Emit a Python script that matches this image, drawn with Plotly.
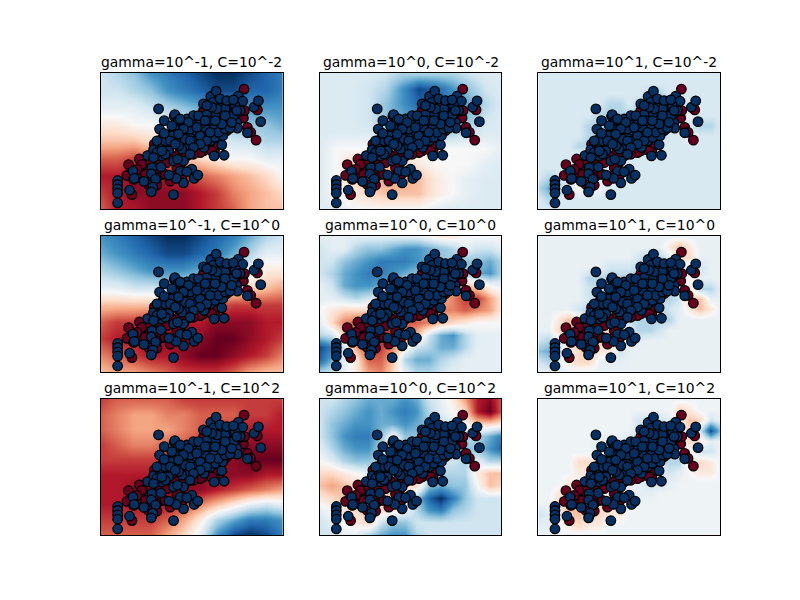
"""RBF SVM decision functions over a gamma / C grid."""

import plotly.graph_objects as go
from plotly.subplots import make_subplots

GAMMAS = ["-1", "0", "1"]
CS = ["-2", "0", "2"]

# point positions, arbitrary units (no ticks on the chart)
X_MAX = 546
Y_MAX = 405

class0_x = [430, 470, 440, 450, 466, 83, 115, 78, 93, 160, 353, 428, 431, 128, 118, 143, 168, 183, 208, 233,
            243, 163, 208, 308, 341, 288, 258, 233, 123, 208, 98, 153, 118, 308, 388, 363, 168, 238,
            268, 298, 323, 348, 178, 198, 228, 108, 133, 168, 193, 223, 148, 178, 213, 398, 413, 378,
            243, 278, 333, 108]
class0_y = [357, 295, 243, 228, 205, 132, 149, 100, 43, 193, 328, 271, 293, 123, 108, 73, 71, 103, 148, 138,
            98, 158, 163, 173, 173, 178, 158, 163, 133, 83, 88, 58, 93, 293, 313, 233, 118, 123,
            168, 168, 183, 193, 133, 138, 123, 103, 103, 93, 103, 98, 143, 163, 158, 273, 288, 233,
            153, 163, 173, 118]

class1_x = [50, 50, 50, 50, 50, 86, 96, 100, 129, 140, 158, 153, 180, 151, 164, 156, 151, 183, 178, 203,
            186, 176, 196, 182, 203, 218, 230, 218, 238, 248, 226, 204, 220, 190, 173, 222, 232, 251, 269, 248,
            220, 248, 230, 273, 258, 280, 291, 259, 283, 306, 308, 310, 340, 370, 330, 363, 343, 366, 273, 288,
            306, 286, 308, 328, 353, 378, 408, 410, 386, 386, 363, 343, 318, 308, 330, 346, 338, 363, 386, 413,
            426, 403, 460, 473, 480, 440, 318,
            193, 213, 238, 253, 268, 298, 318, 313, 298, 268, 258, 278, 293, 323, 338, 353, 373, 388, 398, 418,
            373, 348, 333, 358, 378, 398, 408, 328, 298, 278, 243, 233, 203, 193, 168, 158, 208, 223, 268, 183,
            168, 190, 213, 238, 263, 318, 373, 393, 363, 343, 313, 288, 248, 233]
class1_y = [85, 73, 60, 47, 18, 56, 113, 91, 82, 159, 177, 123, 125, 105, 89, 65, 51, 158, 187, 220,
            213, 238, 198, 193, 176, 143, 213, 43, 113, 78, 91, 101, 276, 263, 298, 281, 263, 253, 225, 235,
            241, 143, 148, 119, 111, 91, 101, 185, 203, 226, 206, 183, 158, 160, 203, 191, 213, 218, 253, 263,
            268, 233, 233, 258, 253, 253, 258, 241, 268, 288, 278, 281, 281, 313, 335, 351, 318, 308, 308, 336,
            321, 308, 303, 322, 260, 227, 223,
            203, 218, 198, 208, 203, 218, 203, 243, 253, 238, 268, 278, 278, 263, 238, 228, 238, 241, 278, 293,
            298, 298, 303, 328, 323, 325, 293, 228, 193, 183, 178, 188, 173, 163, 168, 153, 203, 193, 163, 173,
            203, 225, 248, 268, 258, 308, 278, 258, 253, 263, 263, 243, 238, 223]

# decision values per panel on the -10 (dark red) .. 10 (dark blue) scale, rows top to bottom
z_g1_c2 = [
    [2, 3, 4, 6, 7, 8, 9, 10, 10, 9, 8, 7],
    [2, 2, 3, 4, 6, 7, 8, 9, 9, 8, 8, 7],
    [1, 1, 1, 2, 3, 4, 5, 6, 6, 6, 6, 6],
    [-1, -1, 0, 0, 1, 2, 3, 3, 4, 4, 4, 5],
    [-3, -3, -3, -2, -2, -1, 0, 1, 2, 2, 3, 3],
    [-6, -6, -7, -6, -5, -3, -2, -1, 0, 0, 1, 1],
    [-8, -8, -9, -9, -8, -7, -6, -5, -4, -3, -2, 0],
    [-7, -8, -9, -9, -9, -9, -8, -7, -5, -4, -3, -2],
    [-6, -8, -8, -9, -9, -9, -8, -7, -6, -4, -3, -3],
]
z_g2_c2 = [
    [1.4, 1.4, 1.4, 1.4, 2, 3, 3, 3, 3, 2, 1.4, 1.4],
    [1.4, 1.4, 1.4, 2, 3, 6, 9, 8, 6, 4, 2, 1.4],
    [1.4, 1.4, 1.4, 2, 4, 6, 8, 8, 7, 5, 3, 1.4],
    [1.4, 1.4, 1.4, 2, 4, 5, 6, 6, 5, 4, 2, 1.4],
    [1.4, 1.4, 1.4, 1.4, 2, 3, 3, 3, 3, 2, 1.4, 1.4],
    [1.4, 0, 0, 0, 0, 0, 0, 0, 0, 0, 0, 1],
    [1.4, 0, -2, -3, -3, -2, -1, 0, 0, 0, 1, 1.4],
    [1.4, 0, -2, -3, -4, -4, -3, -1, 0, 1, 1.4, 1.4],
    [1.4, 0, -1, -2, -3, -3, -3, -1, 0, 1, 1.4, 1.4],
    [1.4, 1.4, 0, 0, 0, 0, 0, 1, 1.4, 1.4, 1.4, 1.4],
]
z_g3_c2 = [
    [1.6, 1.6, 1.6, 1.6, 1.6, 1.6, 1.6, 1.6, 1.6, 1.6, 1.6, 1.6, 1.6, 1.6, 1.6, 1.6, 1.6, 1.6, 1.6],
    [1.6, 1.6, 1.6, 1.6, 1.6, 1.6, 1.6, 1.6, 1.6, 1.6, 1.6, 1.6, 1.6, 1.6, 1.6, 1.6, 1.6, 1.6, 1.6],
    [1.6, 1.6, 1.6, 1.6, 1.6, 1.6, 1.6, 1.6, 1.6, 1.6, 1.6, 3, 3, 1.6, 1.6, 1.6, 1.6, 1.6, 1.6],
    [1.6, 1.6, 1.6, 1.6, 1.6, 1.6, 1.6, 3, 3, 1.6, 3, 3, 3, 3, 1.6, 1.6, 1.6, 1.6, 1.6],
    [1.6, 1.6, 1.6, 1.6, 1.6, 1.6, 3, 3, 3, 3, 3, 3, 3, 3, 1.6, .5, 1.6, 1.6, 1.6],
    [1.6, 1.6, 1.6, 1.6, 1.6, 3, 3, 3, 3, 3, 3, 3, 3, 1.6, 1.6, 1.6, 3, 3, 1.6],
    [1.6, 1.6, 1.6, 1.6, 1.6, 3, 3, 3, 3, 3, 3, 3, 3, 1.6, 1.6, .5, 1.6, 1.6, 1.6],
    [1.6, 1.6, 1.6, 1.6, 3, 3, 3, 3, 3, 3, 1.6, 1.6, 1.6, 1.6, 1.6, 1.6, 1.6, 1.6, 1.6],
    [1.6, 1.6, 1.6, 1.6, .5, .5, 1.6, 1.6, 1.6, 1.6, 1.6, 1.6, 1.6, 1.6, 1.6, 1.6, 1.6, 1.6, 1.6],
    [1.6, 1.6, 1.6, .5, .5, .5, 1.6, 1.6, .5, 1.6, 1.6, 1.6, 1.6, 1.6, 1.6, 1.6, 1.6, 1.6, 1.6],
    [1.6, 3, 1.6, 1.6, .5, .5, 1.6, .5, .5, 1.6, 1.6, 1.6, 1.6, 1.6, 1.6, 1.6, 1.6, 1.6, 1.6],
    [3, 5, 3, 1.6, 0, 0, .5, 1.6, 1.6, 1.6, 1.6, 1.6, 1.6, 1.6, 1.6, 1.6, 1.6, 1.6, 1.6],
    [1.6, 3, 1.6, 1.6, 1.6, 1.6, 1.6, 1.6, 1.6, 1.6, 1.6, 1.6, 1.6, 1.6, 1.6, 1.6, 1.6, 1.6, 1.6],
    [1.6, 1.6, 1.6, 1.6, 1.6, 1.6, 1.6, 1.6, 1.6, 1.6, 1.6, 1.6, 1.6, 1.6, 1.6, 1.6, 1.6, 1.6, 1.6],
]
z_g1_c0 = [
    [6, 7, 8, 9, 10, 10, 9, 8, 7, 5, 3, 2],
    [5, 6, 7, 8, 9, 9, 8, 7, 5, 3, 1, 1],
    [3, 4, 5, 6, 6, 6, 5, 4, 2, 1, -1, -1],
    [1, 1, 2, 2, 3, 2, 1, 0, -1, -2, -3, -4],
    [-3, -3, -3, -3, -3, -4, -5, -6, -7, -7, -7, -7],
    [-6, -7, -7, -8, -8, -8, -8, -9, -9, -9, -8, -8],
    [-7, -8, -8, -9, -9, -9, -9, -10, -10, -9, -8, -7],
    [-5, -6, -7, -8, -8, -9, -10, -10, -9, -8, -7, -5],
    [-3, -4, -4, -5, -6, -7, -7, -7, -6, -4, -3, -3],
]
z_g2_c0 = [
    [1, 1, 1, 1, 1, 1, 1, 1, 1, 0, -1, -1, 0, 0, 0, 0],
    [2, 1, 1, 3, 4, 4, 5, 6, 6, 5, 4, 3, 1, 2, 2, 1],
    [2, 2, 4, 5, 6, 7, 7, 7, 6, 5, 4, 4, 4, 4, 5, 3],
    [2, 3, 5, 6, 7, 7, 6, 5, 4, 4, 4, 4, 4, 5, 6, 3],
    [1, 2, 5, 6, 6, 5, 4, 2, 1, 1, 0, -2, -3, -2, 0, 1],
    [1, 1, 2, 3, 2, 1, 0, 0, 0, -1, -3, -5, -7, -7, -4, -1],
    [0, -1, -2, -2, -2, -3, -4, -3, -3, -4, -5, -5, -6, -5, -4, -1],
    [1, -2, -5, -6, -7, -8, -6, -6, -6, -5, -3, -2, -1, 0, 0, 0],
    [3, 2, -2, -6, -7, -7, -7, -6, -3, 2, 5, 6, 3, 1, 1, 1],
    [9, 7, 2, -4, -7, -7, -5, -1, 2, 3, 5, 5, 3, 1, 1, 1],
    [8, 5, 1, -1, -6, -6, -3, 3, 5, 5, 3, 2, 1, 1, 1, 1],
    [3, 2, 1, -1, -4, -5, -2, 1, 3, 3, 2, 1, 1, 1, 1, 1],
]
z_g3_c0 = [
    [.8, .8, .8, .8, .8, .8, .8, .8, .8, .8, .8, .8, .8, .8, .8, .8, .8, .8, .8],
    [.8, .8, .8, .8, .8, .8, .8, .8, .8, .8, .8, .8, .8, -1, -3, -1, .8, .8, .8],
    [.8, .8, .8, .8, .8, .8, .8, .8, .8, .8, 2, 3, 3, 1, -2, -2, .8, .8, .8],
    [.8, .8, .8, .8, .8, .8, .8, 2, 2, 2, 3, 4, 4, 3, 1, 2, 2, .8, .8],
    [.8, .8, .8, .8, .8, 3, 3, 3, 3, 3, 3, 3, 3, 3, 1, 0, .8, .8, .8],
    [.8, .8, .8, .8, .8, 2, 3, 3, 3, 3, 3, 3, 3, 2, 1, -1, 3, 3, .8],
    [.8, .8, .8, .8, .8, 2, 3, 3, 3, 3, 3, 3, 2, 3, 2, -3, -3, .8, .8],
    [.8, .8, .8, .8, 2, 3, 3, 3, 3, 3, 3, 3, 3, 2, 1, -1, -3, -1, .8],
    [.8, .8, -1, -3, -1, 2, 2, 2, 2, 2, 3, 3, 3, 3, .8, .8, .8, .8, .8],
    [.8, .8, -2, -4, -3, 0, -2, -2, -1, 2, 3, 3, 2, .8, .8, .8, .8, .8, .8],
    [2, 3, 1, -2, -3, -4, -3, -3, -3, 1, 1, .8, .8, .8, .8, .8, .8, .8, .8],
    [4, 5, 2, 0, -2, -3, -1, -1, 2, 1, .8, .8, .8, .8, .8, .8, .8, .8, .8],
    [2, 3, 1, -1, -2, -2, .8, 1, 1, .8, .8, .8, .8, .8, .8, .8, .8, .8, .8],
    [.8, .8, .8, .8, .8, .8, .8, .8, .8, .8, .8, .8, .8, .8, .8, .8, .8, .8, .8],
]
z_g1_c4 = [
    [-7, -6, -6, -6, -6, -7, -7, -7, -7, -7, -7, -7],
    [-6, -5, -4, -4, -5, -5, -6, -6, -6, -7, -7, -8],
    [-6, -5, -4, -4, -4, -5, -6, -7, -7, -8, -8, -8],
    [-7, -6, -5, -5, -6, -6, -7, -8, -8, -9, -9, -9],
    [-7, -7, -7, -7, -7, -7, -8, -9, -9, -10, -10, -10],
    [-8, -8, -8, -8, -8, -9, -9, -9, -9, -9, -8, -8],
    [-8, -8, -9, -9, -9, -9, -9, -8, -7, -6, -5, -4],
    [-8, -8, -8, -8, -8, -7, -5, -3, -1, 1, 2, 1],
    [-7, -7, -7, -7, -6, -4, -1, 3, 5, 7, 7, 6],
    [-6, -6, -6, -6, -4, -2, 1, 6, 9, 10, 9, 7],
]
z_g2_c4 = [
    [2, 2, 3, 4, 5, 5, 5, 6, 5, 2, 1, -1, -4, -8, -9, -6],
    [2, 3, 4, 5, 6, 5, 6, 7, 6, 3, 1, 0, -2, -8, -10, -6],
    [2, 4, 5, 6, 6, 5, 5, 6, 5, 4, 3, 1, 0, -2, -2, -1],
    [2, 4, 6, 7, 7, 4, 0, 4, 4, 3, 3, 3, 3, 3, 5, 7],
    [1, 3, 5, 6, 6, 3, -1, 3, 3, 3, 3, 3, 4, 4, 6, 8],
    [0, 1, 3, 4, 4, 2, 0, 2, 3, 2, 2, 2, 3, 1, 3, 3],
    [-2, -2, -1, 0, 1, 1, 0, -1, 0, 1, 3, 3, 3, -1, -3, -3],
    [-3, -4, -3, -2, -2, -3, -2, -2, -2, 4, 5, 4, 4, 0, -3, -2],
    [-1, -2, -3, -3, -3, -3, -2, 0, 4, 8, 10, 7, 4, 2, 2, 2],
    [1, 0, -1, -2, -3, -2, -1, 0, 3, 6, 7, 4, 3, 2, 2, 2],
    [2, 1, 0, -1, -2, 2, 4, 4, 2, 2, 2, 2, 2, 2, 2, 2],
    [2, 2, 1, 1, 3, 5, 6, 6, 3, 2, 2, 2, 2, 2, 2, 2],
]
z_g3_c4 = [
    [.5, .5, .5, .5, .5, .5, .5, .5, .5, .5, .5, .5, .5, .5, .5, .5, .5, .5, .5],
    [.5, .5, .5, .5, .5, .5, .5, .5, .5, .5, .5, .5, .5, .5, -2, -1, .5, .5, .5],
    [.5, .5, .5, .5, .5, .5, .5, .5, .5, .5, 2, 2, 2, 1, 0, -3, -2, 2, .5],
    [.5, .5, .5, .5, .5, .5, .5, .5, .5, .5, 2, 3, 2, 2, 0, -2, 2, 9, 4],
    [.5, .5, .5, .5, .5, .5, 1, 1, 1, 2, 2, 2, 2, 2, 0, -2, -1, 1, .5],
    [.5, .5, .5, .5, .5, .5, 1, 2, 2, 2, 2, 2, 2, 2, 2, 0, 2, 2, .5],
    [.5, .5, .5, .5, -2, -2, 1, 1, 1, 1, 1, 1, 2, 3, 3, -1, -2, -1, .5],
    [.5, .5, .5, .5, -1, -1, 0, 1, 1, 1, 1, 1, 1, 2, 1, 0, -1, -1, .5],
    [.5, .5, .5, -1, 0, 1, 1, 1, 1, 1, 1, 2, 2, 1, .5, .5, .5, .5, .5],
    [.5, .5, -1, -3, -1, 0, -1, 1, 0, 1, 1, 1, .5, .5, .5, .5, .5, .5, .5],
    [.5, .5, -2, -3, -3, -3, -2, -2, -1, 0, .5, .5, .5, .5, .5, .5, .5, .5, .5],
    [2, 1, 0, -3, -3, -2, -2, -1, -1, .5, .5, .5, .5, .5, .5, .5, .5, .5, .5],
    [1, 1, 0, -1, -2, -1, -1, .5, .5, .5, .5, .5, .5, .5, .5, .5, .5, .5, .5],
    [.5, .5, .5, .5, .5, .5, .5, .5, .5, .5, .5, .5, .5, .5, .5, .5, .5, .5, .5],
]

panels = [
    [z_g1_c2, z_g2_c2, z_g3_c2],
    [z_g1_c0, z_g2_c0, z_g3_c0],
    [z_g1_c4, z_g2_c4, z_g3_c4],
]

RDBU = ["#67001f", "#b2182b", "#d6604d", "#f4a582", "#fddbc7", "#f7f7f7",
        "#d1e5f0", "#92c5de", "#4393c3", "#2166ac", "#053061"]
colorscale = [[i / 10, c] for i, c in enumerate(RDBU)]

titles = [f"gamma=10^{g}, C=10^{c}" for c in CS for g in GAMMAS]

fig = make_subplots(
    rows=3,
    cols=3,
    subplot_titles=titles,
    horizontal_spacing=37 / 619,
    vertical_spacing=27 / 462,
)

for row, row_panels in enumerate(panels, start=1):
    for col, z in enumerate(row_panels, start=1):
        n_rows = len(z)
        n_cols = len(z[0])
        fig.add_trace(
            go.Heatmap(
                z=z[::-1],
                x0=0,
                dx=X_MAX / (n_cols - 1),
                y0=0,
                dy=Y_MAX / (n_rows - 1),
                zmin=-10,
                zmax=10,
                zsmooth="best",
                colorscale=colorscale,
                showscale=False,
            ),
            row=row,
            col=col,
        )
        for xs, ys, color in [
            (class0_x, class0_y, "#67001f"),
            (class1_x, class1_y, "#053061"),
        ]:
            fig.add_trace(
                go.Scatter(
                    x=xs,
                    y=ys,
                    mode="markers",
                    marker={"size": 9.5, "color": color, "line": {"color": "black", "width": 1.3}},
                    cliponaxis=False,
                    showlegend=False,
                ),
                row=row,
                col=col,
            )

fig.update_xaxes(
    range=[0, X_MAX], showticklabels=False, ticks="", showgrid=False, zeroline=False,
    showline=True, linecolor="black", linewidth=1, mirror=True,
)
fig.update_yaxes(
    range=[0, Y_MAX], showticklabels=False, ticks="", showgrid=False, zeroline=False,
    showline=True, linecolor="black", linewidth=1, mirror=True,
)
fig.update_annotations(font={"family": "DejaVu Sans", "size": 13.9, "color": "black"}, yshift=1)
fig.update_layout(
    width=800,
    height=600,
    margin={"l": 93, "r": 88, "t": 65, "b": 73},
    paper_bgcolor="white",
    plot_bgcolor="white",
    showlegend=False,
)
fig.write_html("out.html")
